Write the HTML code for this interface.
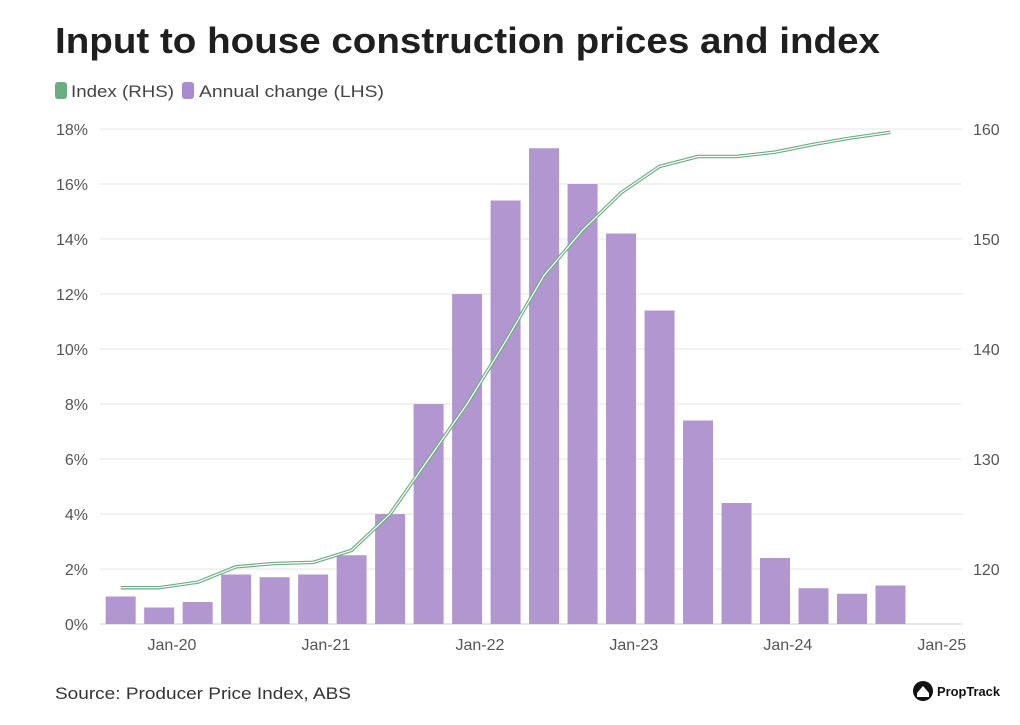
<!DOCTYPE html>
<html><head><meta charset="utf-8"><style>
body{margin:0;background:#fff;width:1020px;height:720px;overflow:hidden;font-family:"Liberation Sans",sans-serif}
</style></head><body>
<svg width="1020" height="720" xmlns="http://www.w3.org/2000/svg">
<text x="55" y="53" font-size="36" font-weight="bold" fill="#1f1f1f" textLength="825" lengthAdjust="spacingAndGlyphs">Input to house construction prices and index</text>
<g>
<rect x="55" y="82" width="12" height="17" rx="3" fill="#6aae82"/>
<text x="71" y="97" font-size="17" fill="#444" textLength="103" lengthAdjust="spacingAndGlyphs">Index (RHS)</text>
<rect x="182" y="82" width="12" height="17" rx="3" fill="#a98bcf"/>
<text x="199" y="97" font-size="17" fill="#444" textLength="185" lengthAdjust="spacingAndGlyphs">Annual change (LHS)</text>
</g>
<g id="plot"></g>
<text x="55" y="699" font-size="17" fill="#333" textLength="296" lengthAdjust="spacingAndGlyphs">Source: Producer Price Index, ABS</text>
<g>
<circle cx="923" cy="691" r="10" fill="#111"/>
<path d="M917 693 L923 686 L929 693 L929 697 L917 697 Z" fill="#fff"/>
<text x="937" y="696" font-size="13" font-weight="bold" fill="#111" textLength="63" lengthAdjust="spacingAndGlyphs">PropTrack</text>
</g>
</svg>
<script>
const months=[-4,-1,2,5,8,11,14,17,20,23,26,29,32,35,38,41,44,47,50,53,56]; // months relative to Jan-20
const annualChange=[1.0,0.6,0.8,1.8,1.7,1.8,2.5,4.0,8.0,12.0,15.4,17.3,16.0,14.2,11.4,7.4,4.4,2.4,1.3,1.1,1.4];
const indexValues=[118.3,118.3,118.8,120.2,120.5,120.6,121.7,125,130,135,140.7,146.7,150.8,154.2,156.6,157.5,157.5,157.9,158.6,159.2,159.7];
const leftTicks=[0,2,4,6,8,10,12,14,16,18];
const rightTicks=[120,130,140,150,160];
const xTicks=[0,12,24,36,48,60];
const xTickLabels=["Jan-20","Jan-21","Jan-22","Jan-23","Jan-24","Jan-25"];
const NS="http://www.w3.org/2000/svg";
const g=document.getElementById('plot');
const X=m=>172+m*12.83;
const YL=v=>624-v*27.5;
const YR=v=>569-(v-120)*11;
function el(t,a){const e=document.createElementNS(NS,t);for(const k in a)e.setAttribute(k,a[k]);g.appendChild(e);return e;}
leftTicks.forEach(t=>{
 const l=el('line',{x1:100,x2:962,y1:YL(t),y2:YL(t),stroke:'#e6e6e6','stroke-width':1});
 
 
 const tx=el('text',{x:88,y:YL(t)+6,'font-size':16,fill:'#555','text-anchor':'end'});tx.textContent=t+'%';
 
 
});
rightTicks.forEach(t=>{
 const tx=el('text',{x:973,y:YR(t)+6,'font-size':16,fill:'#555'});tx.textContent=t;
 
 
});
const ax=el('line',{x1:100,x2:962,y1:624,y2:624,stroke:'#ccc'});


xTicks.forEach((m,i)=>{
 const tx=el('text',{x:X(m),y:650,'font-size':16,fill:'#555','text-anchor':'middle'});tx.textContent=xTickLabels[i];
 
 
});
annualChange.forEach((v,i)=>{
 const r=el('rect',{x:X(months[i])-15,y:YL(v),width:30,height:624-YL(v),fill:'#b196d0'});
 
 
});
const pts=indexValues.map((v,i)=>X(months[i])+','+YR(v)).join(' ');
const l1=el('polyline',{points:pts,fill:'none',stroke:'#6aae82','stroke-width':3.5,'stroke-linejoin':'round'});


const l2=el('polyline',{points:pts,fill:'none',stroke:'#fff','stroke-width':1.2,'stroke-linejoin':'round'});


</script>
</body></html>
